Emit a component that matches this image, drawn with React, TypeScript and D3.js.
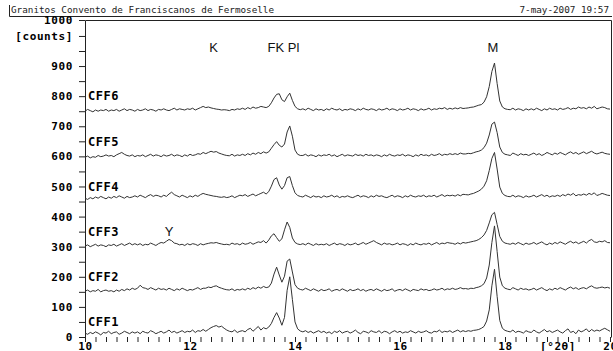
import React, { useRef, useEffect } from 'react';
import * as d3 from 'd3';

const title = 'Granitos Convento de Franciscanos de Fermoselle';
const stamp = '7-may-2007 19:57';

// scan grid: 10 to 20 deg 2theta, 0.05 deg per step
const startAngle = 10;
const stepAngle = 0.05;

const cff1 = [
  8, 4, 10, 6, 12, 8, 2, 10, 8, 14,
  6, 10, 12, 4, 8, 14, 10, 6, 12, 8,
  12, 6, 14, 10, 8, 16, 12, 6, 10, 14,
  8, 12, 18, 10, 14, 8, 12, 16, 10, 14,
  12, 18, 10, 16, 14, 20, 14, 20, 26, 30,
  33, 28, 31, 24, 18, 14, 12, 18, 10, 14,
  16, 12, 20, 24, 14, 22, 30, 18, 26, 22,
  28, 40, 60, 76, 58, 34, 60, 150, 195, 120,
  45, 22, 15, 12, 16, 10, 14, 8, 12, 16,
  10, 14, 8, 12, 6, 14, 10, 16, 8, 12,
  14, 8, 12, 18, 10, 6, 14, 12, 8, 16,
  12, 10, 16, 8, 14, 12, 6, 12, 16, 10,
  14, 8, 12, 10, 16, 12, 8, 14, 10, 12,
  16, 10, 8, 14, 12, 18, 10, 14, 12, 16,
  10, 14, 18, 12, 16, 13, 16, 14, 17, 18,
  20, 24, 30, 48, 85, 165, 220, 130, 50, 24,
  17, 14, 12, 18, 10, 14, 12, 8, 16, 12,
  10, 18, 12, 8, 14, 20, 12, 16, 10, 14,
  18, 12, 8, 16, 22, 10, 14, 6, 18, 12,
  16, 22, 12, 20, 14, 18, 15, 20, 24, 19,
  14,
];

const cff2 = [
  8, 12, 6, 10, 8, 14, 6, 10, 12, 8,
  10, 6, 12, 8, 14, 10, 16, 12, 18, 14,
  18, 28, 20, 18, 14, 20, 16, 12, 18, 14,
  16, 12, 18, 14, 10, 16, 12, 18, 14, 10,
  14, 12, 16, 20, 14, 18, 18, 22, 20, 24,
  26, 21, 18, 15, 13, 12, 16, 10, 14, 12,
  16, 12, 18, 14, 20, 16, 22, 18, 24, 20,
  22, 35, 65, 88, 62, 38, 58, 108, 115, 72,
  30, 18, 14, 12, 18, 14, 10, 16, 12, 8,
  14, 10, 12, 16, 8, 12, 14, 10, 16, 12,
  8, 14, 10, 12, 16, 10, 14, 8, 12, 14,
  10, 16, 12, 8, 14, 10, 12, 16, 8, 12,
  14, 10, 16, 12, 8, 14, 12, 10, 16, 12,
  14, 10, 12, 16, 12, 14, 18, 12, 16, 14,
  18, 14, 16, 20, 16, 17, 15, 18, 17, 20,
  22, 26, 33, 52, 95, 170, 225, 140, 55, 26,
  18, 15, 13, 20, 16, 12, 18, 14, 16, 12,
  14, 18, 12, 16, 20, 14, 10, 16, 12, 18,
  14, 20, 16, 12, 18, 22, 16, 20, 14, 18,
  20, 16, 22, 26, 20, 18, 20, 22, 19, 21,
  18,
];

const cff3 = [
  8, 12, 6, 10, 14, 8, 12, 10, 6, 12,
  10, 14, 8, 12, 16, 10, 14, 18, 12, 16,
  12, 16, 10, 14, 12, 18, 14, 10, 16, 20,
  18, 24, 30, 26, 18, 16, 12, 14, 10, 16,
  12, 16, 14, 10, 16, 12, 15, 17, 19, 18,
  20, 17, 15, 13, 14, 12, 18, 14, 16, 12,
  18, 14, 16, 20, 14, 18, 22, 20, 26, 18,
  28, 42, 49, 36, 24, 32, 62, 88, 70, 35,
  20, 15, 13, 16, 12, 18, 14, 10, 16, 12,
  14, 12, 16, 10, 14, 18, 12, 16, 14, 10,
  16, 12, 14, 18, 12, 16, 20, 14, 18, 22,
  26, 20, 16, 12, 18, 14, 16, 12, 14, 18,
  12, 16, 14, 10, 16, 12, 18, 14, 12, 16,
  14, 18, 12, 16, 20, 14, 18, 16, 20, 18,
  17, 14, 19, 15, 20, 18, 20, 22, 24, 26,
  30, 36, 45, 60, 85, 112, 120, 80, 40, 24,
  18, 16, 14, 18, 14, 20, 16, 12, 18, 14,
  16, 20, 14, 18, 22, 16, 12, 18, 14, 20,
  16, 22, 18, 14, 20, 24, 18, 22, 16, 20,
  24, 18, 26, 30, 22, 20, 24, 22, 26, 20,
  19,
];

const cff4 = [
  8, 4, 10, 6, 12, 8, 14, 10, 6, 12,
  8, 14, 10, 16, 12, 8, 14, 10, 12, 16,
  12, 18, 14, 10, 16, 20, 14, 18, 16, 12,
  18, 14, 22, 28, 20, 16, 12, 18, 14, 10,
  16, 12, 18, 14, 20, 24, 21, 19, 17, 15,
  14, 12, 11, 13, 10, 12, 16, 10, 14, 18,
  16, 20, 14, 18, 22, 16, 20, 24, 28, 22,
  30, 48, 70, 76, 52, 38, 50, 76, 80, 50,
  26, 17, 14, 12, 18, 14, 10, 16, 12, 14,
  10, 16, 12, 14, 18, 12, 16, 10, 14, 12,
  16, 12, 10, 14, 18, 12, 16, 14, 10, 16,
  12, 18, 14, 16, 12, 10, 14, 18, 12, 16,
  14, 10, 16, 12, 18, 14, 12, 16, 14, 18,
  12, 16, 14, 18, 12, 16, 20, 14, 18, 16,
  18, 15, 20, 16, 21, 20, 19, 22, 24, 28,
  32, 38, 48, 66, 100, 140, 160, 105, 45, 24,
  17, 14, 13, 18, 12, 16, 14, 10, 16, 12,
  14, 18, 12, 16, 20, 14, 18, 12, 16, 14,
  18, 14, 20, 16, 22, 18, 24, 16, 20, 18,
  22, 18, 24, 20, 26, 17, 20, 24, 21, 18,
  17,
];

const cff5 = [
  8, 12, 6, 10, 8, 14, 10, 12, 16, 12,
  14, 10, 16, 20, 24, 18, 14, 12, 16, 10,
  14, 12, 16, 10, 14, 18, 12, 16, 14, 10,
  16, 12, 14, 18, 12, 16, 14, 10, 16, 12,
  18, 14, 16, 20, 18, 24, 20, 24, 28, 25,
  27, 22, 19, 16, 14, 13, 18, 12, 16, 14,
  18, 14, 20, 16, 22, 18, 24, 20, 26, 22,
  26, 38, 50, 60, 48, 42, 52, 92, 112, 78,
  32, 18, 14, 14, 18, 12, 16, 14, 10, 16,
  12, 16, 14, 18, 12, 16, 10, 14, 18, 12,
  16, 14, 12, 18, 14, 16, 12, 18, 14, 16,
  12, 16, 14, 10, 16, 12, 18, 14, 12, 16,
  14, 18, 12, 16, 14, 10, 16, 12, 18, 14,
  16, 12, 18, 14, 16, 20, 14, 18, 16, 20,
  17, 20, 17, 22, 19, 19, 21, 20, 23, 26,
  28, 32, 40, 55, 82, 118, 125, 90, 42, 24,
  18, 16, 14, 22, 18, 14, 20, 16, 18, 14,
  18, 22, 16, 20, 14, 18, 24, 20, 16, 22,
  18, 24, 20, 16, 22, 26, 20, 24, 18, 22,
  26, 20, 24, 28, 22, 19, 22, 25, 21, 19,
  18,
];

const cff6 = [
  8, 14, 10, 6, 12, 8, 12, 10, 14, 8,
  12, 10, 14, 8, 12, 16, 10, 14, 12, 8,
  14, 10, 12, 16, 10, 14, 12, 8, 14, 12,
  16, 12, 10, 14, 18, 12, 16, 14, 12, 16,
  14, 18, 12, 16, 20, 24, 20, 22, 19, 17,
  15, 14, 12, 13, 12, 10, 14, 12, 16, 14,
  18, 14, 20, 16, 22, 18, 20, 24, 22, 20,
  24, 36, 52, 64, 66, 46, 40, 56, 68, 44,
  24, 16, 13, 16, 12, 18, 14, 10, 16, 12,
  14, 10, 16, 12, 18, 14, 12, 16, 10, 14,
  12, 16, 14, 10, 16, 12, 18, 14, 12, 16,
  14, 10, 16, 12, 14, 18, 12, 16, 14, 10,
  16, 12, 14, 18, 12, 16, 14, 10, 16, 12,
  14, 18, 12, 16, 14, 18, 16, 20, 14, 18,
  15, 19, 16, 20, 17, 18, 19, 21, 22, 25,
  28, 30, 38, 56, 90, 140, 168, 100, 42, 22,
  16, 14, 13, 18, 12, 16, 14, 10, 16, 12,
  16, 12, 18, 14, 10, 16, 12, 18, 14, 16,
  12, 18, 14, 16, 20, 14, 18, 16, 22, 18,
  20, 16, 22, 18, 24, 16, 19, 22, 20, 16,
  15,
];

const sampleNames = ['CFF1', 'CFF2', 'CFF3', 'CFF4', 'CFF5', 'CFF6'];
const sampleScans = [cff1, cff2, cff3, cff4, cff5, cff6];
const sampleOffsets = [5, 144, 294, 453, 589, 742];
const nameLevels = [50, 200, 350, 500, 650, 800];

const yLabelTicks = [0, 100, 200, 300, 400, 500, 600, 700, 800, 900];
const yTop = 1053;
const xLabelTicks = [10, 12, 14, 16, 18, 20];

const phaseNames = ['K', 'FK Pl', 'M', 'Y'];
const phaseAngles = [12.45, 13.78, 17.77, 11.6];
const phaseLevels = [962, 962, 962, 350];

function App() {
  const ref = useRef<SVGSVGElement>(null);

  useEffect(() => {
    const svg = d3.select(ref.current);
    svg.selectAll('*').remove();

    const width = 613;
    const height = 351;
    const left = 85;
    const right = 610;
    const top = 20;
    const bottom = 337;
    const ink = '#222';
    const mono = '"DejaVu Sans Mono", "Liberation Mono", monospace';

    const x = d3.scaleLinear().domain([10, 20]).range([left, right]);
    const y = d3.scaleLinear().domain([0, yTop]).range([bottom, top]);

    svg.append('rect').attr('width', width).attr('height', height).attr('fill', '#fff');

    // header
    svg.append('text')
      .attr('x', 11).attr('y', 13)
      .attr('font-family', mono).attr('font-size', 9.3)
      .attr('fill', ink)
      .text(title);
    svg.append('text')
      .attr('x', 609).attr('y', 13)
      .attr('text-anchor', 'end')
      .attr('font-family', mono).attr('font-size', 9.3)
      .attr('fill', ink)
      .text(stamp);
    svg.append('path')
      .attr('d', 'M9.5,5 V16.5 H612')
      .attr('fill', 'none').attr('stroke', ink).attr('stroke-width', 1);

    // frame
    svg.append('path')
      .attr('d', `M${left + 0.5},${bottom + 0.5} V${top + 0.5} H${right + 1.5} V${bottom + 0.5}`)
      .attr('fill', 'none').attr('stroke', ink).attr('stroke-width', 1);

    // y axis
    const yAxis = d3.axisLeft(y)
      .tickValues([...d3.range(0, 1001, 50), yTop])
      .tickSize(6)
      .tickFormat((d) => {
        const v = +d;
        if (v === yTop) return '1000';
        if (v === 1000) return '[counts]';
        return yLabelTicks.includes(v) ? String(v) : '';
      });
    const yg = svg.append('g')
      .attr('transform', `translate(${left},0)`)
      .call(yAxis);
    yg.select('.domain').remove();
    yg.selectAll('line').attr('stroke', ink);
    yg.selectAll('text')
      .attr('x', -12)
      .attr('fill', '#000')
      .attr('font-family', mono)
      .attr('font-weight', 'bold')
      .attr('font-size', 11)
      .attr('letter-spacing', 0.6);

    // x axis (labels run off the bottom edge, as in the print)
    const xAxis = d3.axisBottom(x)
      .tickValues(d3.range(0, 51).map((i) => 10 + i * 0.2))
      .tickSize(5)
      .tickFormat((d) => {
        const v = Math.round(+d * 10) / 10;
        if (v === 19) return '[°2θ]';
        return xLabelTicks.includes(v) ? String(v) : '';
      });
    const xg = svg.append('g')
      .attr('transform', `translate(0,${bottom})`)
      .call(xAxis);
    xg.select('.domain').remove();
    xg.selectAll('line').attr('stroke', ink);
    xg.selectAll('text')
      .attr('y', 5)
      .attr('dy', '0.71em')
      .attr('fill', '#000')
      .attr('font-family', mono)
      .attr('font-weight', 'bold')
      .attr('font-size', 11)
      .attr('letter-spacing', 0.6);

    // scans
    sampleScans.forEach((scan, k) => {
      const line = d3.line<number>()
        .x((_, i) => x(startAngle + i * stepAngle))
        .y((d) => y(d + sampleOffsets[k]));
      svg.append('path')
        .datum(scan)
        .attr('d', line)
        .attr('fill', 'none')
        .attr('stroke', '#333')
        .attr('stroke-width', 1)
        .attr('stroke-linejoin', 'round');

      svg.append('text')
        .attr('x', x(10) + 3)
        .attr('y', y(nameLevels[k]))
        .attr('dy', '0.36em')
        .attr('fill', '#000')
        .attr('font-family', mono)
        .attr('font-weight', 'bold')
        .attr('font-size', 12)
        .attr('letter-spacing', 0.5)
        .text(sampleNames[k]);
    });

    // mineral labels
    phaseNames.forEach((name, k) => {
      svg.append('text')
        .attr('x', x(phaseAngles[k]))
        .attr('y', y(phaseLevels[k]))
        .attr('dy', '0.36em')
        .attr('text-anchor', 'middle')
        .attr('fill', '#111')
        .attr('font-family', '"Liberation Sans", Arial, sans-serif')
        .attr('font-size', 13)
        .text(name);
    });
  }, []);

  return (
    <svg
      ref={ref}
      width={613}
      height={351}
      style={{ position: 'absolute', left: 0, top: 0, display: 'block' }}
    />
  );
}

export default App;
